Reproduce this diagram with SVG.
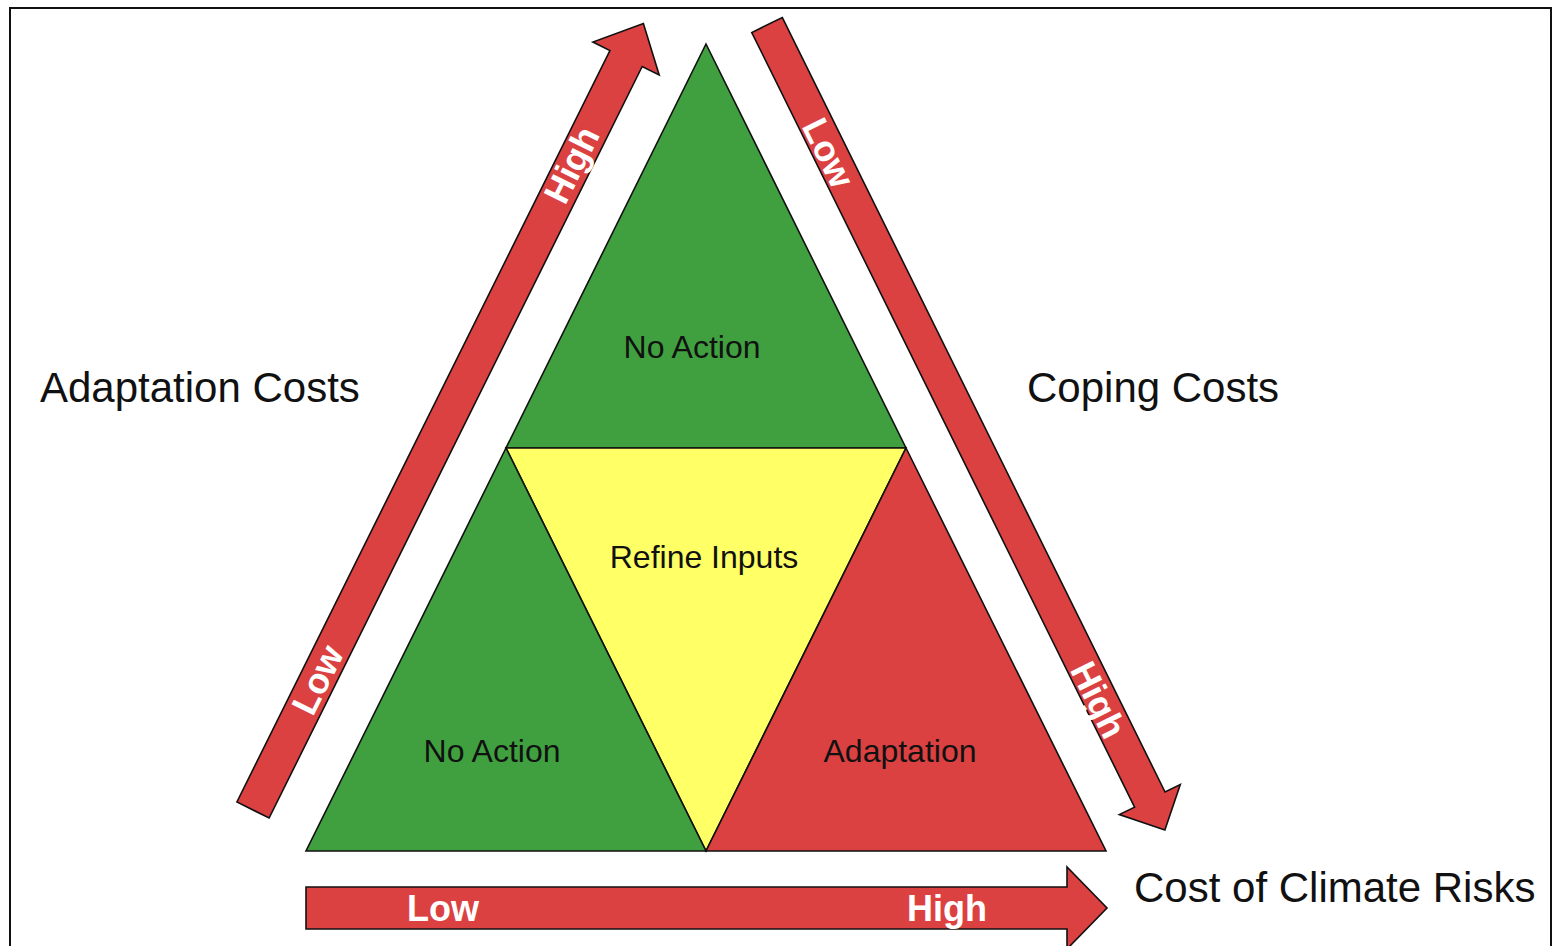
<svg xmlns="http://www.w3.org/2000/svg" width="1553" height="946" viewBox="0 0 1553 946">
<style>
.tri{stroke:#111;stroke-width:1.6;stroke-linejoin:miter}
.g{fill:#40A040}.r{fill:#DB4141}.y{fill:#FFFF66}
.arr{fill:#DB4141;stroke:#111;stroke-width:1.6;stroke-linejoin:miter}
.lbl{font-family:"Liberation Sans",Arial,sans-serif;font-size:32px;fill:#111;text-anchor:middle}
.big{font-family:"Liberation Sans",Arial,sans-serif;font-size:42px;fill:#111}
.al{font-family:"Liberation Sans",Arial,sans-serif;font-size:36px;font-weight:bold;fill:#fff;text-anchor:middle}
</style>
<rect x="0" y="0" width="1553" height="946" fill="#fff"/>
<rect x="10" y="8" width="1541" height="960" fill="none" stroke="#111" stroke-width="2"/>
<g id="connectors">
<g id="arrow-adaptation">
<polygon class="arr" transform="translate(253,810) rotate(-63.6)" points="0,-18 839,-18 839,-37 878,0 839,37 839,18 0,18"/>
<text class="al" transform="translate(572,165) rotate(-63.6)" dy="12">High</text>
<text class="al" transform="translate(318,680) rotate(-63.6)" dy="12">Low</text>
</g>
<g id="arrow-coping">
<polygon class="arr" transform="translate(767,25) rotate(63.7)" points="0,-17 864,-17 864,-34 898,0 864,34 864,17 0,17"/>
<text class="al" transform="translate(828,153) rotate(63.7)" dy="12">Low</text>
<text class="al" transform="translate(1098,700) rotate(63.7)" dy="12">High</text>
</g>
<g id="arrow-risk">
<polygon class="arr" points="306,887 1067,887 1067,867 1107,908 1067,949 1067,929 306,929"/>
<text class="al" x="443" y="921">Low</text>
<text class="al" x="947" y="921">High</text>
</g>
</g>
<g id="node-top-noaction">
<polygon class="tri g" points="706,44 906,448 506,448"/>
<text class="lbl" x="692" y="358">No Action</text>
</g>
<g id="node-refine">
<polygon class="tri y" points="506,448 906,448 706,851"/>
<text class="lbl" x="704" y="568">Refine Inputs</text>
</g>
<g id="node-left-noaction">
<polygon class="tri g" points="506,448 706,851 306,851"/>
<text class="lbl" x="492" y="762">No Action</text>
</g>
<g id="node-adaptation">
<polygon class="tri r" points="906,448 1106,851 706,851"/>
<text class="lbl" x="900" y="762">Adaptation</text>
</g>
<g id="axis-labels">
<text class="big" x="40" y="402">Adaptation Costs</text>
<text class="big" x="1027" y="402">Coping Costs</text>
<text class="big" x="1134" y="902">Cost of Climate Risks</text>
</g>
</svg>
